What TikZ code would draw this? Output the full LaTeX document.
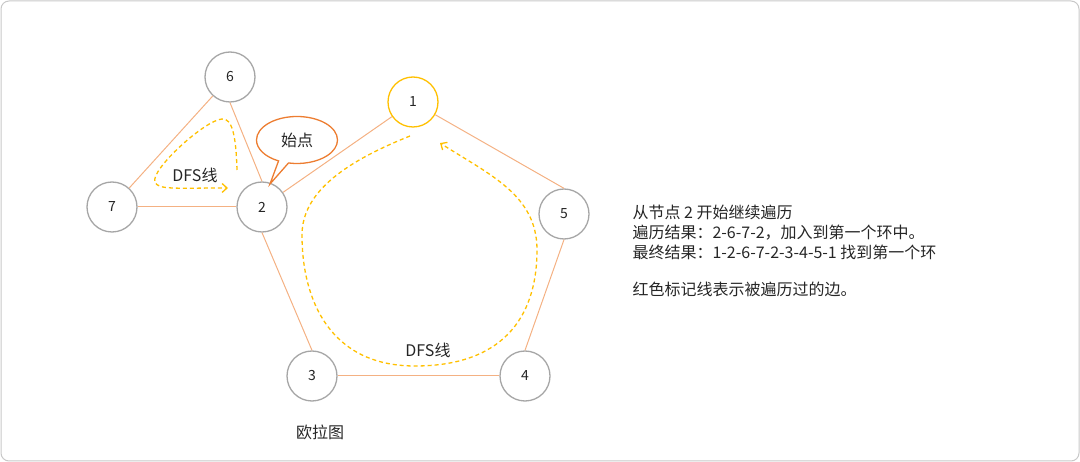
\documentclass[tikz,border=0pt]{standalone}
\usepackage{fontspec}
\setmainfont{Noto Sans CJK SC}
\usepackage{xcolor}
\usetikzlibrary{arrows.meta,shapes.callouts}
\definecolor{edgeorange}{HTML}{F4B183}
\definecolor{calloutorange}{HTML}{ED7D31}
\definecolor{dfsyellow}{HTML}{FFC000}
\definecolor{ringgray}{HTML}{A6A6A6}
\definecolor{textink}{HTML}{262626}
\definecolor{framegray}{HTML}{C8C8C8}

\begin{document}
\begin{tikzpicture}[
  x=1pt,
  y=-1pt,
  every node/.style={textink},
  vertex/.style={circle, draw=ringgray, line width=1.3pt, fill=white,
                 minimum size=50pt, inner sep=0pt,
                 font=\fontsize{14}{14}\selectfont},
  startvertex/.style={vertex, draw=dfsyellow},
  edge/.style={edgeorange, line width=1pt},
  dfsline/.style={dfsyellow, line width=1.3pt, dash pattern=on 4pt off 3pt,
                  -{Straight Barb[length=5pt, width=9pt, line width=1.3pt]}},
  label/.style={font=\fontsize{16}{20}\selectfont}
]
  % ---- canvas and frame ----
  \useasboundingbox (0,0) rectangle (1080,462);
  \draw[framegray, line width=1pt, rounded corners=8pt] (1,1) rectangle (1079,461);

  % ---- vertices ----
  \node[startvertex] (n1) at (413,102) {1};
  \node[vertex] (n2) at (262,207) {2};
  \node[vertex] (n3) at (312,376) {3};
  \node[vertex] (n4) at (525,376) {4};
  \node[vertex] (n5) at (564,214) {5};
  \node[vertex] (n6) at (230,77) {6};
  \node[vertex] (n7) at (112,207) {7};

  % ---- edges ----
  \draw[edge] (n6) -- (n7);
  \draw[edge] (n6.south) -- (n2.north);
  \draw[edge] (n7.east) -- (n2.west);
  \draw[edge] (n2) -- (n1);
  \draw[edge] (n1) -- (n5.north);
  \draw[edge] (n5.south) -- (n4.north);
  \draw[edge] (n4.west) -- (n3.east);
  \draw[edge] (n3.north) -- (n2.south);

  % ---- start marker ----
  \node[ellipse callout, draw=calloutorange, line width=1.3pt, fill=white,
        minimum width=81pt, minimum height=47pt, inner sep=0pt,
        callout absolute pointer={(270,184)}, label] (start) at (297,140) {始点};

  % ---- DFS traversal lines ----
  \draw[dfsline] (237,170) .. controls (236,135) and (232,118) .. (222,119)
    .. controls (205,120) and (150,170) .. (155,182)
    .. controls (158,190) and (175,188) .. (228,188);
  \node[label] (dfssmall) at (195,175) {DFS线};

  \draw[dfsline] (410,136) .. controls (350,160) and (302,190) .. (302,235)
    .. controls (302,300) and (330,366) .. (415,366)
    .. controls (500,366) and (537,320) .. (537,250)
    .. controls (537,195) and (490,175) .. (440,143);
  \node[label] (dfsbig) at (428,350) {DFS线};

  % ---- captions ----
  \node[label] (title) at (320,432) {欧拉图};
  \node[label, anchor=north west, align=left] (notes) at (629,201)
    {从节点 2 开始继续遍历\\
     遍历结果：2-6-7-2，加入到第一个环中。\\
     最终结果：1-2-6-7-2-3-4-5-1 找到第一个环\\[17pt]
     红色标记线表示被遍历过的边。};
\end{tikzpicture}
\end{document}
